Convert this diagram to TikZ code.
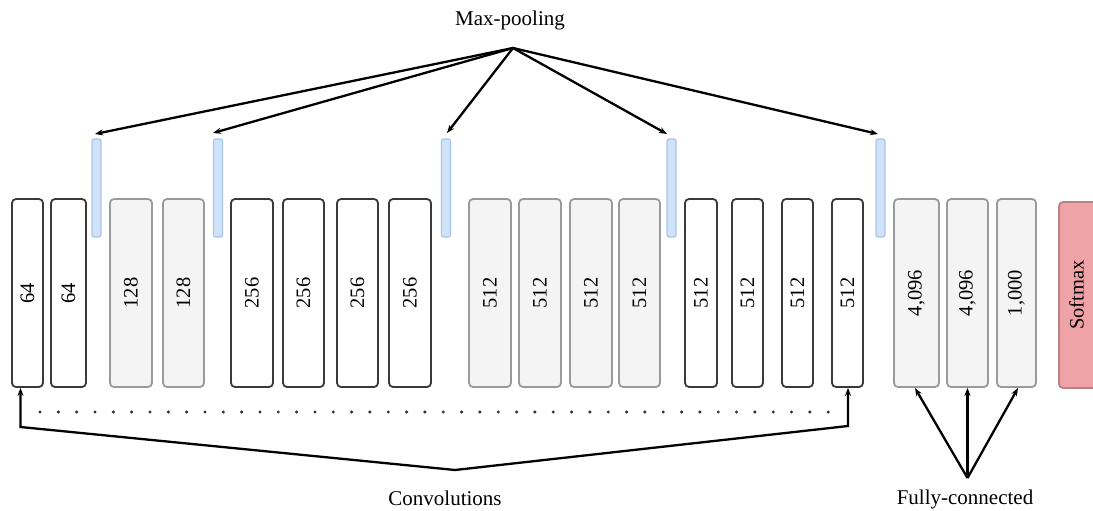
\documentclass[tikz,border=0pt]{standalone}
\usepackage{fontspec}
\setmainfont{Liberation Serif}
\usetikzlibrary{arrows.meta}
\definecolor{convline}{HTML}{3A3A3A}
\definecolor{grayfill}{HTML}{F4F4F4}
\definecolor{grayline}{HTML}{9A9A9A}
\definecolor{poolfill}{HTML}{CFE2F8}
\definecolor{poolline}{HTML}{A9C5EC}
\definecolor{smfill}{HTML}{F0A3A6}
\definecolor{smline}{HTML}{B98088}
\tikzset{
  layer/.style={rectangle, rounded corners=4pt, minimum height=188pt, inner sep=0pt,
    line width=1.8pt, font=\fontsize{20.5}{20.5}\selectfont},
  convw/.style={layer, draw=convline, fill=white},
  convg/.style={layer, draw=grayline, fill=grayfill},
  pool/.style={rectangle, rounded corners=2pt, minimum width=9pt, minimum height=98pt,
    inner sep=0pt, draw=poolline, fill=poolfill, line width=1.2pt},
  soft/.style={layer, draw=smline, fill=smfill},
  lbl/.style={font=\fontsize{21}{21}\selectfont, inner sep=0pt},
  arr/.style={line width=2.3pt, -{Stealth[length=8pt,width=6pt]}},
  dotmark/.style={fill=black!80, draw=none}
}
\newcommand{\vtxt}[1]{\rotatebox{90}{#1}}
\begin{document}
\begin{tikzpicture}[x=1pt,y=-1pt]
  \useasboundingbox (0,0) rectangle (1093,511);
  \clip (0,0) rectangle (1093,511);

  % convolution blocks
  \node[convw, minimum width=31pt] (c1) at (27.5,293) {\vtxt{64}};
  \node[convw, minimum width=35pt] (c2) at (68.5,293) {\vtxt{64}};
  \node[pool] (p1) at (96.5,188) {};
  \node[convg, minimum width=42pt] (c3) at (131,293) {\vtxt{128}};
  \node[convg, minimum width=41pt] (c4) at (183.5,293) {\vtxt{128}};
  \node[pool] (p2) at (218,188) {};
  \node[convw, minimum width=42pt] (c5) at (252,293) {\vtxt{256}};
  \node[convw, minimum width=41pt] (c6) at (303.5,293) {\vtxt{256}};
  \node[convw, minimum width=41pt] (c7) at (357.5,293) {\vtxt{256}};
  \node[convw, minimum width=42pt] (c8) at (410,293) {\vtxt{256}};
  \node[pool] (p3) at (446,188) {};
  \node[convg, minimum width=42pt] (c9) at (490,293) {\vtxt{512}};
  \node[convg, minimum width=42pt] (c10) at (540,293) {\vtxt{512}};
  \node[convg, minimum width=42pt] (c11) at (591,293) {\vtxt{512}};
  \node[convg, minimum width=41pt] (c12) at (639.5,293) {\vtxt{512}};
  \node[pool] (p4) at (671.5,188) {};
  \node[convw, minimum width=32pt] (c13) at (701,293) {\vtxt{512}};
  \node[convw, minimum width=31pt] (c14) at (747.5,293) {\vtxt{512}};
  \node[convw, minimum width=31pt] (c15) at (797.5,293) {\vtxt{512}};
  \node[convw, minimum width=31pt] (c16) at (847.5,293) {\vtxt{512}};
  \node[pool] (p5) at (880.5,188) {};

  % fully-connected blocks and softmax
  \node[convg, minimum width=45pt] (f1) at (916.5,293) {\vtxt{4,096}};
  \node[convg, minimum width=41pt] (f2) at (967.5,293) {\vtxt{4,096}};
  \node[convg, minimum width=39pt] (f3) at (1016.5,293) {\vtxt{1,000}};
  \node[soft, minimum width=44pt, minimum height=186pt] (sm) at (1081,295) {\hspace*{-9pt}\vtxt{Softmax}};

  % max-pooling pointers
  \node[lbl] (mp) at (510,20) {Max-pooling};
  \coordinate (mpa) at (513,48);
  \coordinate (t1) at (95,134);
  \coordinate (t2) at (213,133);
  \coordinate (t3) at (447,133);
  \coordinate (t4) at (667,134);
  \coordinate (t5) at (878,134);
  \foreach \t in {t1,t2,t3,t4,t5} \draw[arr] (mpa) -- (\t);

  % convolution bracket
  \foreach \i in {0,...,43} \fill[dotmark] (40+\i*18.33,412) circle (1.7pt);
  \coordinate (cva) at (455,470);
  \coordinate (cvl) at (20.5,427);
  \coordinate (cvr) at (848,426);
  \draw[arr] (cva) -- (cvl) -- (cvl |- c1.south);
  \draw[arr] (cva) -- (cvr) -- (cvr |- c16.south);
  \node[lbl] (cv) at (445,498) {Convolutions};

  % fully-connected pointers
  \coordinate (fca) at (967.5,478);
  \draw[arr] (fca) -- (915,388);
  \draw[arr] (fca) -- (f2.south);
  \draw[arr] (fca) -- (1018,388);
  \node[lbl] (fc) at (965,499) {Fully-connected};
\end{tikzpicture}
\end{document}
